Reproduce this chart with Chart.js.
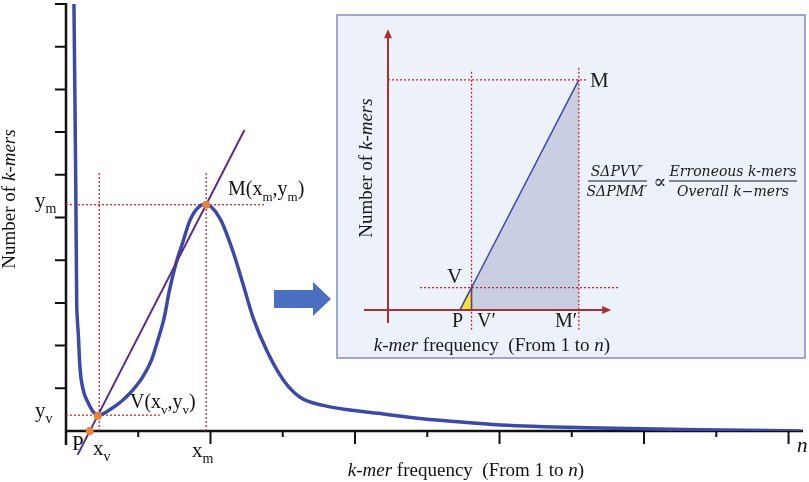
<!DOCTYPE html>
<html>
<head>
<meta charset="utf-8">
<script src="https://cdn.jsdelivr.net/npm/chart.js@4.4.1/dist/chart.umd.min.js"></script>
<style>
  html, body { margin: 0; padding: 0; background: #fff; }
  #wrap { position: relative; width: 809px; height: 482px; }
  canvas { position: absolute; left: 0; top: 0; }
</style>
</head>
<body>
<div id="wrap">
  <canvas id="main" width="809" height="482"></canvas>
  <canvas id="inset" width="809" height="482"></canvas>
</div>
<script>
// main k-mer frequency curve
const curveX = [0.11, 0.124, 0.137, 0.148, 0.156, 0.17, 0.193, 0.24, 0.31, 0.38, 0.45, 0.60, 0.785, 0.92, 1.06, 1.18, 1.27, 1.36, 1.43, 1.52, 1.62, 1.71, 1.82, 1.93, 2.13, 2.31, 2.45, 2.59, 2.78, 3.01, 3.24, 3.56, 3.93, 4.39, 4.86, 5.32, 6.01, 7.40, 8.78, 10.17];
const curveY = [10.0, 7.7, 5.37, 3.05, 2.65, 2.28, 1.49, 0.95, 0.65, 0.44, 0.37, 0.49, 0.72, 0.95, 1.26, 1.65, 2.12, 2.66, 3.28, 3.91, 4.44, 4.91, 5.22, 5.31, 4.98, 4.21, 3.44, 2.65, 1.88, 1.19, 0.79, 0.60, 0.49, 0.40, 0.30, 0.23, 0.14, 0.07, 0.03, 0.0];

// tangent line through P and M
const tangentX = [0.16, 2.47];
const tangentY = [-0.56, 7.05];

// marked points P, V, M
const pointX = [0.33, 0.44, 1.94];
const pointY = [0.0, 0.35, 5.30];

// axis ticks
const xTicks = [1, 2, 3, 4, 5, 6, 7, 8, 9, 10];
const yTicks = [1, 2, 3, 4, 5, 6, 7, 8, 9, 10];
const xMax = 10.2, yMax = 10;

// inset triangle points
const insetBigX = [2.0, 5.3, 5.3];
const insetBigY = [0, 6.39, 0];
const insetSmallX = [2.0, 2.32, 2.32];
const insetSmallY = [0, 0.62, 0];

const SERIF = '"Liberation Serif", "Times New Roman", serif';

function pts(xs, ys) { return xs.map((v, i) => ({ x: v, y: ys[i] })); }

function dotted(x1, y1, x2, y2, color) {
  return {
    data: [{ x: x1, y: y1 }, { x: x2, y: y2 }],
    showLine: true, borderColor: color, borderWidth: 1.3, borderDash: [2, 2],
    pointRadius: 0, clip: false
  };
}

function fontFor(st, size, fam) {
  const s = st === 's' ? Math.round(size * 0.66) : size;
  return (st === 'i' ? 'italic ' : '') + s + 'px ' + fam;
}

function drawRich(ctx, parts, x, y, size, fam, align) {
  let w = 0;
  parts.forEach(p => { ctx.font = fontFor(p[1], size, fam); w += ctx.measureText(p[0]).width; });
  let cx = align === 'center' ? x - w / 2 : x;
  parts.forEach(p => {
    ctx.font = fontFor(p[1], size, fam);
    ctx.fillText(p[0], cx, p[1] === 's' ? y + size * 0.28 : y);
    cx += ctx.measureText(p[0]).width;
  });
}

const mainDecor = {
  id: 'mainDecor',
  beforeDatasetsDraw(chart) {
    const { ctx, scales: { x, y } } = chart;
    const x0 = x.getPixelForValue(0), y0 = y.getPixelForValue(0);
    ctx.save();
    ctx.strokeStyle = '#111';
    ctx.lineWidth = 2.5;
    ctx.beginPath();
    ctx.moveTo(x0, y.getPixelForValue(yMax) - 1);
    ctx.lineTo(x0, y0 + 14);
    ctx.moveTo(x0 - 1, y0);
    ctx.lineTo(x.getPixelForValue(xMax), y0);
    ctx.stroke();
    ctx.lineWidth = 2;
    ctx.beginPath();
    yTicks.forEach(t => {
      const py = y.getPixelForValue(t);
      ctx.moveTo(x0 - 11, py); ctx.lineTo(x0, py);
    });
    xTicks.forEach((t, i) => {
      const px = x.getPixelForValue(t);
      ctx.moveTo(px, y0); ctx.lineTo(px, y0 + (i % 2 === 0 ? 6 : 13));
    });
    ctx.stroke();

    // block arrow towards the inset
    ctx.fillStyle = '#4a6fbf';
    ctx.beginPath();
    ctx.moveTo(274, 290); ctx.lineTo(313, 290); ctx.lineTo(313, 282);
    ctx.lineTo(331, 299); ctx.lineTo(313, 316); ctx.lineTo(313, 308);
    ctx.lineTo(274, 308); ctx.closePath();
    ctx.fill();
    ctx.restore();
  },
  afterDraw(chart) {
    const { ctx } = chart;
    ctx.save();
    ctx.fillStyle = '#111';
    ctx.textBaseline = 'alphabetic';
    drawRich(ctx, [['y', ''], ['m', 's']], 35, 207, 21, SERIF);
    drawRich(ctx, [['y', ''], ['v', 's']], 35, 417, 21, SERIF);
    drawRich(ctx, [['P', '']], 72, 450, 21, SERIF);
    drawRich(ctx, [['x', ''], ['v', 's']], 93, 455, 21, SERIF);
    drawRich(ctx, [['x', ''], ['m', 's']], 192, 457, 21, SERIF);
    drawRich(ctx, [['V(x', ''], ['v', 's'], [',y', ''], ['v', 's'], [')', '']], 130, 408, 20, SERIF);
    drawRich(ctx, [['M(x', ''], ['m', 's'], [',y', ''], ['m', 's'], [')', '']], 228, 195, 20, SERIF);
    drawRich(ctx, [['n', 'i']], 797, 452, 21, SERIF);
    drawRich(ctx, [['k-mer', 'i'], [' frequency  (From 1 to ', ''], ['n', 'i'], [')', '']], 466, 476, 19, SERIF, 'center');
    ctx.translate(15, 199);
    ctx.rotate(-Math.PI / 2);
    drawRich(ctx, [['Number of ', ''], ['k-mers', 'i']], 0, 0, 19, SERIF, 'center');
    ctx.restore();
  }
};

new Chart(document.getElementById('main'), {
  type: 'scatter',
  data: {
    datasets: [
      { data: pts(pointX, pointY), pointRadius: 4, pointBackgroundColor: '#e8833a', pointBorderWidth: 0, clip: false },
      { data: pts(tangentX, tangentY), showLine: true, borderColor: '#5a2d8c', borderWidth: 2, pointRadius: 0, clip: false },
      { data: pts(curveX, curveY), showLine: true, borderColor: '#3b49a8', borderWidth: 3.5, pointRadius: 0, cubicInterpolationMode: 'monotone' },
      dotted(0.46, 0, 0.46, 6.07, '#d42a2a'),
      dotted(1.94, 0, 1.94, 6.07, '#d42a2a'),
      dotted(0, 5.30, 2.76, 5.30, '#d42a2a'),
      dotted(0, 0.37, 1.30, 0.37, '#d42a2a')
    ]
  },
  options: {
    responsive: false, animation: false, events: [],
    layout: { padding: { left: 66, right: 6, top: 1, bottom: 51 } },
    scales: {
      x: { type: 'linear', min: 0, max: xMax, display: false },
      y: { type: 'linear', min: 0, max: yMax, display: false }
    },
    plugins: { legend: { display: false }, tooltip: { enabled: false } }
  },
  plugins: [mainDecor]
});

// ----- inset -----
const insetDecor = {
  id: 'insetDecor',
  beforeDraw(chart) {
    const { ctx, chartArea: a } = chart;
    ctx.save();
    ctx.fillStyle = '#edf1fa';
    ctx.fillRect(a.left, a.top, a.right - a.left, a.bottom - a.top);
    ctx.strokeStyle = '#7d8cc8';
    ctx.lineWidth = 1.5;
    ctx.strokeRect(a.left, a.top, a.right - a.left, a.bottom - a.top);
    ctx.restore();
  },
  afterDatasetsDraw(chart) {
    const { ctx, scales: { x, y } } = chart;
    const ox = x.getPixelForValue(0), oy = y.getPixelForValue(0);
    const top = y.getPixelForValue(7.8), right = x.getPixelForValue(6.2);
    ctx.save();
    ctx.strokeStyle = '#a83232';
    ctx.fillStyle = '#a83232';
    ctx.lineWidth = 2;
    ctx.beginPath();
    ctx.moveTo(ox, y.getPixelForValue(-0.36)); ctx.lineTo(ox, top + 6);
    ctx.moveTo(x.getPixelForValue(-0.67), oy); ctx.lineTo(right - 6, oy);
    ctx.stroke();
    ctx.beginPath();
    ctx.moveTo(ox, top); ctx.lineTo(ox - 4, top + 9); ctx.lineTo(ox + 4, top + 9); ctx.closePath();
    ctx.moveTo(right, oy); ctx.lineTo(right - 9, oy - 4); ctx.lineTo(right - 9, oy + 4); ctx.closePath();
    ctx.fill();

    ctx.fillStyle = '#1a1a1a';
    ctx.textBaseline = 'alphabetic';
    drawRich(ctx, [['M', '']], 590, 87, 21, SERIF);
    drawRich(ctx, [['V', '']], 447, 283, 21, SERIF);
    drawRich(ctx, [['P', '']], 452, 327, 20, SERIF);
    drawRich(ctx, [['V\u2032', '']], 477, 327, 20, SERIF);
    drawRich(ctx, [['M\u2032', '']], 555, 327, 20, SERIF);
    drawRich(ctx, [['k-mer', 'i'], [' frequency  (From 1 to ', ''], ['n', 'i'], [')', '']], 492, 351, 19, SERIF, 'center');

    // ratio formula
    const MF = '"DejaVu Serif", serif';
    ctx.textAlign = 'center';
    ctx.font = 'italic 14px ' + MF;
    ctx.fillText('S\u0394PVV\u2032', 617, 176);
    ctx.fillText('S\u0394PMM\u2032', 617, 196);
    ctx.fillText('Erroneous k-mers', 733, 176);
    ctx.fillText('Overall k\u2212mers', 733, 196);
    ctx.font = '19px ' + MF;
    ctx.fillText('\u221D', 660, 188);
    ctx.strokeStyle = '#1a1a1a';
    ctx.lineWidth = 1.2;
    ctx.beginPath();
    ctx.moveTo(588, 181); ctx.lineTo(647, 181);
    ctx.moveTo(669, 181); ctx.lineTo(797, 181);
    ctx.stroke();

    ctx.textAlign = 'left';
    ctx.translate(372, 168);
    ctx.rotate(-Math.PI / 2);
    drawRich(ctx, [['Number of ', ''], ['k-mers', 'i']], 0, 0, 19, SERIF, 'center');
    ctx.restore();
  }
};

const edgeOnlyFirst = c => c.p0DataIndex === 0 ? '#3b49a8' : 'rgba(0,0,0,0)';

new Chart(document.getElementById('inset'), {
  type: 'scatter',
  data: {
    datasets: [
      dotted(0, 6.39, 5.56, 6.39, '#c0262d'),
      dotted(0.89, 0.62, 6.44, 0.62, '#c0262d'),
      dotted(2.32, -0.55, 2.32, 6.67, '#c0262d'),
      dotted(5.3, -0.55, 5.3, 6.75, '#c0262d'),
      { data: pts(insetSmallX, insetSmallY), showLine: true, fill: 'origin', backgroundColor: '#f0e43c',
        borderColor: '#3b49a8', borderWidth: 1.5, pointRadius: 0 },
      { data: pts(insetBigX, insetBigY), showLine: true, fill: 'origin', backgroundColor: '#c9cee2',
        borderWidth: 1.5, segment: { borderColor: edgeOnlyFirst }, pointRadius: 0 }
    ]
  },
  options: {
    responsive: false, animation: false, events: [],
    layout: { padding: { left: 337, right: 4, top: 15, bottom: 124 } },
    scales: {
      x: { type: 'linear', min: -1.4167, max: 11.583, display: false },
      y: { type: 'linear', min: -1.3333, max: 8.1944, display: false }
    },
    plugins: { legend: { display: false }, tooltip: { enabled: false } }
  },
  plugins: [insetDecor]
});
</script>
</body>
</html>
